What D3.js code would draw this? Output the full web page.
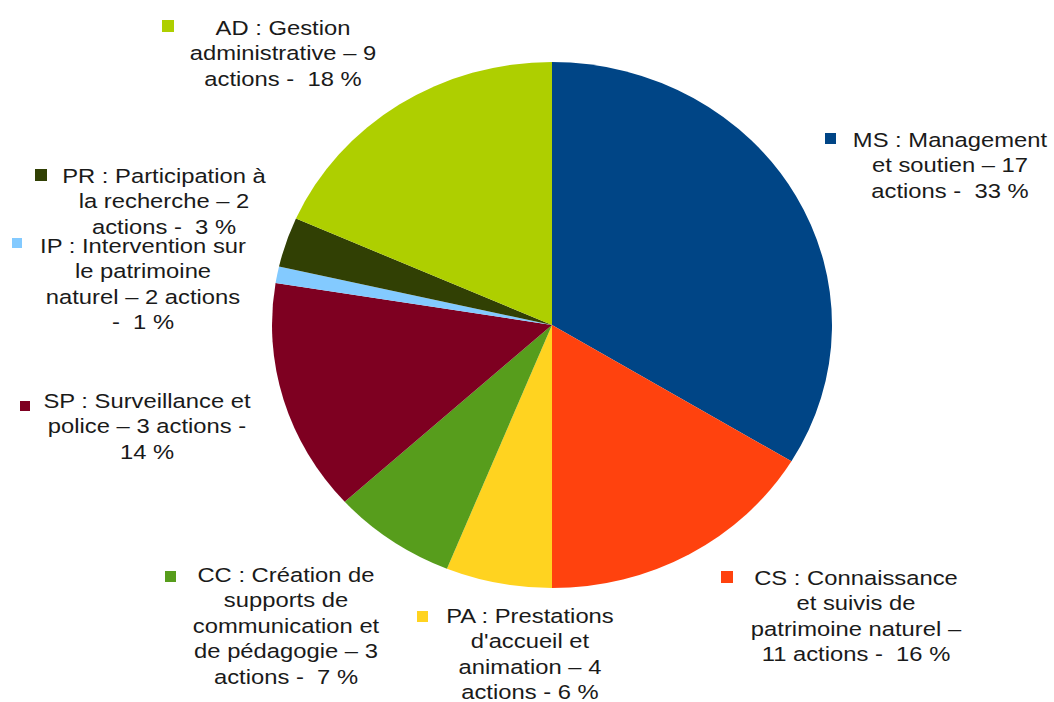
<!DOCTYPE html>
<html>
<head>
	<meta charset="utf-8">
	<title>Répartition des actions</title>
	<style>
		body { margin: 0; background: #fff; }
		.label { font-family: "Liberation Sans", Arial, sans-serif; font-size: 19.5px; fill: #1a1a1a; white-space: pre; }
	</style>
</head>
<body>
	<div id="chart"></div>
	<script src="https://cdnjs.cloudflare.com/ajax/libs/d3/7.8.5/d3.min.js"></script>
	<script>
		// data, clockwise from 12 o'clock
		var codes = ["MS", "CS", "PA", "CC", "SP", "IP", "PR", "AD"];
		var percents = [33, 16, 6, 7, 14, 1, 3, 18];
		var colors = ["#004586", "#ff420e", "#ffd320", "#579d1c", "#7e0021", "#83caff", "#314004", "#aecf00"];
		var labelLines = [
			["MS : Management", "et soutien – 17", "actions -  33 %"],
			["CS : Connaissance", "et suivis de", "patrimoine naturel –", "11 actions -  16 %"],
			["PA : Prestations", "d'accueil et", "animation – 4", "actions - 6 %"],
			["CC : Création de", "supports de", "communication et", "de pédagogie – 3", "actions -  7 %"],
			["SP : Surveillance et", "police – 3 actions -", "14 %"],
			["IP : Intervention sur", "le patrimoine", "naturel – 2 actions", "-  1 %"],
			["PR : Participation à", "la recherche – 2", "actions -  3 %"],
			["AD : Gestion", "administrative – 9", "actions -  18 %"]
		];

		// label layout: text center, first baseline, legend key square
		var layout = {
			MS: { cx: 950, y: 147, kx: 825, ky: 133, ks: 11 },
			CS: { cx: 856, y: 585, kx: 721, ky: 571, ks: 12 },
			PA: { cx: 530, y: 623, kx: 417, ky: 611, ks: 11 },
			CC: { cx: 286, y: 582, kx: 165, ky: 571, ks: 11 },
			SP: { cx: 147, y: 408, kx: 20, ky: 401, ks: 10 },
			IP: { cx: 143, y: 253, kx: 12, ky: 238, ks: 10 },
			PR: { cx: 164, y: 183, kx: 35, ky: 169, ks: 12 },
			AD: { cx: 283, y: 35, kx: 162, ky: 20, ks: 12 }
		};

		var width = 1054, height = 702;
		var cx = 552, cy = 325, rx = 280, ry = 263;
		var lineH = 25.5, stretch = 1.22;

		var svg = d3.select("#chart").append("svg")
			.attr("width", width)
			.attr("height", height);

		var data = codes.map(function(c, i) {
			return { code: c, value: percents[i], color: colors[i], lines: labelLines[i] };
		});

		var pie = d3.pie().sort(null).value(function(d) { return d.value; });
		var arc = d3.arc().innerRadius(0).outerRadius(ry);

		svg.append("g")
			.attr("transform", "translate(" + cx + "," + cy + ") scale(" + (rx / ry) + ",1)")
			.selectAll("path")
			.data(pie(data))
			.enter()
			.append("path")
			.attr("d", arc)
			.attr("fill", function(d) { return d.data.color; });

		var labels = svg.append("g").selectAll("g")
			.data(data)
			.enter()
			.append("g");

		labels.append("rect")
			.attr("x", function(d) { return layout[d.code].kx; })
			.attr("y", function(d) { return layout[d.code].ky; })
			.attr("width", function(d) { return layout[d.code].ks; })
			.attr("height", function(d) { return layout[d.code].ks; })
			.attr("fill", function(d) { return d.color; });

		labels.append("text")
			.attr("class", "label")
			.attr("text-anchor", "middle")
			.attr("transform", function(d) {
				var l = layout[d.code];
				return "translate(" + l.cx + "," + l.y + ") scale(" + stretch + ",1)";
			})
			.selectAll("tspan")
			.data(function(d) { return d.lines; })
			.enter()
			.append("tspan")
			.attr("x", 0)
			.attr("y", function(d, i) { return i * lineH; })
			.text(function(d) { return d; });
	</script>
</body>
</html>
